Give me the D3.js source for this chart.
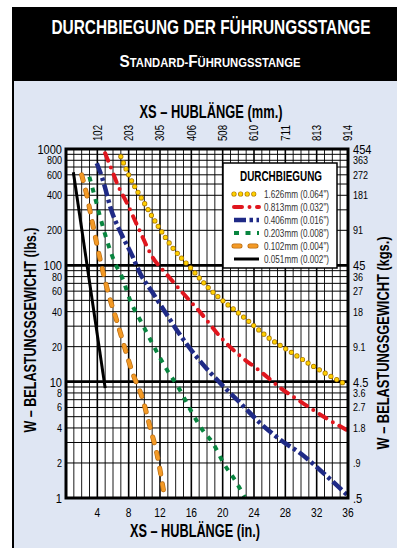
<!DOCTYPE html>
<html>
<head>
<meta charset="utf-8">
<script src="https://cdn.jsdelivr.net/npm/d3@7"></script>
<style>
body { margin: 0; background: #fff; }
text { font-family: "Liberation Sans", Arial, sans-serif; }
</style>
</head>
<body>
<div id="chart"></div>
<script>
// tick labels
const inchTicks = [4, 8, 12, 16, 20, 24, 28, 32, 36]
const mmTicks = ["102", "203", "305", "406", "508", "610", "711", "813", "914"]
const lbsTicks = [1000, 800, 600, 400, 200, 100, 80, 60, 40, 20, 10, 8, 6, 4, 2, 1]
const kgsTicks = ["454", "363", "272", "181", "91", "45", "36", "27", "18", "9.1", "4.5", "3.6", "2.7", "1.8", ".9", ".5"]

// deflection curves: [stroke length in., load lbs.]
const deflectionLabels = ["1.626mm (0.064\")", "0.813mm (0.032\")", "0.406mm (0.016\")", "0.203mm (0.008\")", "0.102mm (0.004\")", "0.051mm (0.002\")"]
const d1626 = [[7.0,860],[8.0,600],[9.9,352],[11.8,215],[13.5,145],[15.9,95],[18.0,66],[23.1,34],[25.7,24.3],[28.7,18],[31.7,13.4],[35.8,9.4]]
const d0813 = [[5.0,920],[5.85,660],[6.7,474],[7.8,341],[9.26,208],[11.0,119],[12.9,83],[14.8,59],[17.2,39],[19.7,24.3],[22.1,16.9],[24.6,12.6],[27.4,8.8],[30.0,6.7],[32.9,5.0],[35.8,3.85]]
const d0406 = [[3.93,754],[4.57,578],[5.85,289],[7.13,182],[8.41,123],[9.47,85],[11.0,59],[12.9,37.4],[14.0,28.7],[17.2,14.8],[19.7,9.7],[22.3,6.5],[24.8,4.4],[27.4,3.15],[30.0,2.4],[32.9,1.63],[35.9,1.06]]
const d0203 = [[2.98,578],[3.5,430],[4.35,262],[5.21,165],[6.27,104],[7.13,80],[8.19,50],[9.69,31.7],[12.9,12.6],[14.4,8.8],[15.9,5.7],[17.6,3.7],[18.7,3.0],[20.1,2.0],[21.7,1.38],[22.8,1.02]]
const d0102 = [[2.0,600],[2.65,402],[3.3,245],[4.6,95],[5.42,57],[6.5,33],[8.6,11.4],[9.7,7.4],[10.8,3.9],[11.6,2.41],[12.55,1.05]]
const d0051 = [[0.94,630],[5.0,8.8]]

const dimensions = {
    width: 397,
    height: 548,
    margin: { top: 149, right: 50, bottom: 50, left: 66 },
}
dimensions.boundedWidth = dimensions.width - dimensions.margin.left - dimensions.margin.right + 1
dimensions.boundedHeight = dimensions.height - dimensions.margin.top - dimensions.margin.bottom

// condensed look: squeeze Liberation Sans horizontally
const SQ = 0.82
const place = (px, py, rot) => `translate(${px},${py})` + (rot ? ` rotate(${rot})` : "") + ` scale(${SQ},1)`

const svg = d3.select("#chart").append("svg")
    .attr("width", dimensions.width)
    .attr("height", dimensions.height)

// page frame
svg.append("rect").attr("x", 12).attr("y", 80).attr("width", 385).attr("height", 468).attr("fill", "#dfe6f3")
svg.append("rect").attr("x", 12).attr("y", 7).attr("width", 385).attr("height", 74).attr("fill", "#000")
svg.append("line").attr("x1", 13).attr("x2", 13).attr("y1", 80).attr("y2", 548).attr("stroke", "#000").attr("stroke-width", 2)

svg.append("text").attr("transform", "translate(211,34) scale(0.735,1)").attr("text-anchor", "middle")
    .attr("fill", "#fff").attr("font-size", 21).attr("font-weight", "bold")
    .text("DURCHBIEGUNG DER FÜHRUNGSSTANGE")
const sub = svg.append("text").attr("transform", "translate(210,67) scale(0.9,1)").attr("text-anchor", "middle")
    .attr("fill", "#fff").attr("font-weight", "bold")
sub.append("tspan").attr("font-size", 17).text("S")
sub.append("tspan").attr("font-size", 12.5).text("TANDARD-")
sub.append("tspan").attr("font-size", 17).text("F")
sub.append("tspan").attr("font-size", 12.5).text("ÜHRUNGSSTANGE")

const bounds = svg.append("g")
    .attr("transform", `translate(${dimensions.margin.left},${dimensions.margin.top})`)

const x = d3.scaleLinear().domain([0, 36]).range([0, dimensions.boundedWidth])
const y = d3.scaleLog().domain([1, 1000]).range([dimensions.boundedHeight, 0])

bounds.append("rect")
    .attr("width", dimensions.boundedWidth).attr("height", dimensions.boundedHeight)
    .attr("fill", "#fff")

// grid
const inchGrid = d3.range(1, 36)
bounds.selectAll(".vgrid").data(inchGrid).enter().append("line")
    .attr("x1", d => x(d)).attr("x2", d => x(d))
    .attr("y1", 0).attr("y2", dimensions.boundedHeight)
    .attr("stroke", "#000").attr("stroke-width", d => d % 4 == 0 ? 1.6 : 0.9)

const logGrid = []
for (const dec of [1, 10, 100]) {
    for (let k = 1; k < 10; k++) logGrid.push(dec * k)
}
bounds.selectAll(".hgrid").data(logGrid).enter().append("line")
    .attr("x1", 0).attr("x2", dimensions.boundedWidth)
    .attr("y1", d => y(d)).attr("y2", d => y(d))
    .attr("stroke", "#000").attr("stroke-width", d => [10, 100].includes(d) ? 2.6 : 1)

// left axis labels (lbs.)
const isDecade = v => [1, 10, 100, 1000].includes(v)
bounds.selectAll(".lbs").data(lbsTicks).enter().append("text")
    .attr("transform", d => place(-4, y(d)))
    .attr("dy", "0.36em")
    .attr("text-anchor", "end")
    .attr("font-size", d => isDecade(d) ? 13.5 : 11)
    .text(d => d)

// right axis labels (kgs.)
bounds.selectAll(".kgs").data(kgsTicks).enter().append("text")
    .attr("transform", (d, i) => place(dimensions.boundedWidth + 5, y(lbsTicks[i])))
    .attr("dy", "0.36em")
    .attr("font-size", (d, i) => isDecade(lbsTicks[i]) ? 13.5 : 11)
    .text(d => d)

// bottom axis (in.)
bounds.selectAll(".inch").data(inchTicks).enter().append("text")
    .attr("transform", d => place(x(d), dimensions.boundedHeight + 19))
    .attr("text-anchor", "middle").attr("font-size", 12.5)
    .text(d => d)

// top axis (mm.)
bounds.selectAll(".mm").data(mmTicks).enter().append("text")
    .attr("transform", (d, i) => `translate(${x(inchTicks[i])},-8) rotate(-90)`)
    .attr("dy", "0.36em").attr("font-size", 12)
    .attr("textLength", 16).attr("lengthAdjust", "spacingAndGlyphs")
    .text(d => d)

// axis titles
const title = (tx, ty, rot, len, size, str) => svg.append("text")
    .attr("transform", `translate(${tx},${ty})` + (rot ? ` rotate(${rot})` : ""))
    .attr("text-anchor", "middle").attr("font-size", size).attr("font-weight", "bold")
    .attr("textLength", len).attr("lengthAdjust", "spacingAndGlyphs")
    .text(str)
title(211, 118, 0, 143, 18, "XS – HUBLÄNGE (mm.)")
title(195, 537, 0, 130, 18, "XS – HUBLÄNGE (in.)")
title(36, 330, -90, 205, 16.5, "W – BELASTUNGSGEWICHT (lbs.)")
title(389, 343, -90, 213, 16.5, "W – BELASTUNGSGEWICHT (kgs.)")

// curve styles, one per series
const styles = [
    [{ stroke: "#a87400", width: 5.2, dash: "0 6.6", cap: "round" }, { stroke: "#ffd000", width: 3.8, dash: "0 6.6", cap: "round" }],
    [{ stroke: "#e0161e", width: 4, dash: "8 7.5 0 7.5", cap: "round" }],
    [{ stroke: "#1f2a86", width: 4.5, dash: "12 3.5 3.5 3.5", cap: "butt" }],
    [{ stroke: "#08853f", width: 4, dash: "5 6.5", cap: "butt" }],
    [{ stroke: "#b86b10", width: 5, dash: "6 10", cap: "round" }, { stroke: "#f39a26", width: 3.6, dash: "6 10", cap: "round" }],
    [{ stroke: "#000", width: 3, dash: null, cap: "butt" }],
]
const series = [d1626, d0813, d0406, d0203, d0102, d0051]

const line = d3.line()
    .x(d => x(d[0]))
    .y(d => y(d[1]))
    .curve(d3.curveMonotoneX)

series.forEach((s, i) => {
    styles[i].forEach(st => {
        bounds.append("path")
            .attr("d", line(s))
            .attr("fill", "none")
            .attr("stroke", st.stroke)
            .attr("stroke-width", st.width)
            .attr("stroke-dasharray", st.dash)
            .attr("stroke-linecap", st.cap)
    })
})

// plot frame
bounds.append("rect")
    .attr("width", dimensions.boundedWidth).attr("height", dimensions.boundedHeight)
    .attr("fill", "none").attr("stroke", "#000").attr("stroke-width", 3)

// legend
const legend = svg.append("g").attr("transform", "translate(223,163)")
legend.append("rect").attr("width", 114).attr("height", 105)
    .attr("fill", "#fff").attr("stroke", "#000").attr("stroke-width", 1.5)
legend.append("text").attr("x", 58).attr("y", 18).attr("text-anchor", "middle")
    .attr("font-size", 14).attr("font-weight", "bold")
    .attr("textLength", 82).attr("lengthAdjust", "spacingAndGlyphs")
    .text("DURCHBIEGUNG")
deflectionLabels.forEach((lab, i) => {
    const ly = 31 + i * 13
    styles[i].forEach(st => {
        legend.append("line")
            .attr("x1", 11).attr("x2", 36).attr("y1", ly).attr("y2", ly)
            .attr("stroke", st.stroke).attr("stroke-width", st.width)
            .attr("stroke-dasharray", st.dash).attr("stroke-linecap", st.cap)
    })
    legend.append("text").attr("x", 41).attr("y", ly).attr("dy", "0.35em")
        .attr("font-size", 10.5).attr("fill", "#333")
        .attr("textLength", 65).attr("lengthAdjust", "spacingAndGlyphs")
        .text(lab)
})
</script>
</body>
</html>
